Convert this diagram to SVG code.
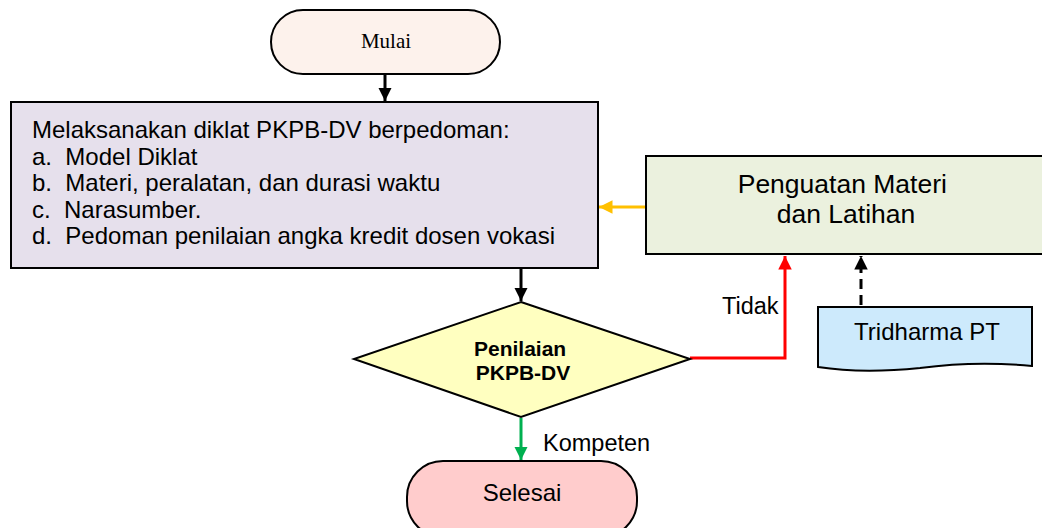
<svg xmlns="http://www.w3.org/2000/svg" width="1042" height="528" viewBox="0 0 1042 528">
  <style>
    .shape { stroke: #000; stroke-width: 2; }
    .sans { font-family: "Liberation Sans", Arial, sans-serif; fill: #000; }
    .serif { font-family: "Liberation Serif", "Times New Roman", serif; fill: #000; }
    .conn { fill: none; stroke-width: 3; }
  </style>
  <defs>
    <marker id="arrBlack" viewBox="0 0 10 10" refX="10" refY="5" markerWidth="4.5" markerHeight="4.5" orient="auto" markerUnits="strokeWidth">
      <path d="M0,0 L10,5 L0,10 z" fill="#000"/>
    </marker>
    <marker id="arrRed" viewBox="0 0 10 10" refX="10" refY="5" markerWidth="4.5" markerHeight="4.5" orient="auto" markerUnits="strokeWidth">
      <path d="M0,0 L10,5 L0,10 z" fill="#ff0000"/>
    </marker>
    <marker id="arrOrange" viewBox="0 0 10 10" refX="10" refY="5" markerWidth="4.5" markerHeight="4.5" orient="auto" markerUnits="strokeWidth">
      <path d="M0,0 L10,5 L0,10 z" fill="#ffc000"/>
    </marker>
    <marker id="arrGreen" viewBox="0 0 10 10" refX="10" refY="5" markerWidth="4.5" markerHeight="4.5" orient="auto" markerUnits="strokeWidth">
      <path d="M0,0 L10,5 L0,10 z" fill="#00b050"/>
    </marker>
  </defs>

  <rect width="1042" height="528" fill="#fff"/>

  <g id="connectors">
    <line class="conn" x1="385" y1="75" x2="385" y2="101" stroke="#000" marker-end="url(#arrBlack)"/>
    <line class="conn" x1="521" y1="269" x2="521" y2="301" stroke="#000" marker-end="url(#arrBlack)"/>
    <line class="conn" x1="645" y1="207" x2="599" y2="207" stroke="#ffc000" marker-end="url(#arrOrange)"/>
    <polyline class="conn" points="690,358 785,358 785,256" stroke="#ff0000" marker-end="url(#arrRed)"/>
    <line class="conn" x1="861" y1="305" x2="861" y2="256" stroke="#000" stroke-dasharray="10,6" marker-end="url(#arrBlack)"/>
    <line class="conn" x1="521" y1="418" x2="521" y2="460" stroke="#00b050" marker-end="url(#arrGreen)"/>
    <text class="sans" x="722" y="314" font-size="23.5">Tidak</text>
    <text class="sans" x="543" y="451" font-size="23.5">Kompeten</text>
  </g>

  <g id="mulai">
    <rect class="shape" x="271" y="10" width="229" height="64" rx="32" ry="32" fill="#fdf2ec"/>
    <text class="serif" x="386" y="48" font-size="21" text-anchor="middle">Mulai</text>
  </g>

  <g id="pelaksanaan">
    <rect class="shape" x="11" y="102" width="587" height="166" fill="#e6e0ec"/>
    <text class="sans" font-size="24" xml:space="preserve"><tspan x="32" y="138">Melaksanakan diklat PKPB-DV berpedoman:</tspan><tspan x="32" y="164.5">a.  Model Diklat</tspan><tspan x="32" y="191">b.  Materi, peralatan, dan durasi waktu</tspan><tspan x="32" y="217.5">c.  Narasumber.</tspan><tspan x="32" y="244">d.  Pedoman penilaian angka kredit dosen vokasi</tspan></text>
  </g>

  <g id="penguatan">
    <rect class="shape" x="646" y="156" width="400" height="98" fill="#ebf1de"/>
    <text class="sans" font-size="26.5" text-anchor="middle">
      <tspan x="846" y="193">Penguatan Materi</tspan>
      <tspan x="846" y="223">dan Latihan</tspan>
    </text>
  </g>

  <g id="penilaian">
    <polygon class="shape" points="521,302 690,359 521,417 354,359" fill="#ffffc0"/>
    <text class="sans" font-size="21" font-weight="bold" text-anchor="middle">
      <tspan x="523" y="356">Penilaian</tspan>
      <tspan x="523" y="380">PKPB-DV</tspan>
    </text>
  </g>

  <g id="tridharma">
    <path class="shape" d="M818,307 L1032,307 L1032,366 C990,362 950,364 920,368 C880,372 850,372 818,367 Z" fill="#cdeafc"/>
    <text class="sans" x="927" y="340" font-size="24" text-anchor="middle">Tridharma PT</text>
  </g>

  <g id="selesai">
    <rect class="shape" x="407" y="461" width="230" height="76" rx="36" ry="36" fill="#ffcccc"/>
    <text class="sans" x="522" y="501" font-size="24" text-anchor="middle">Selesai</text>
  </g>
</svg>
